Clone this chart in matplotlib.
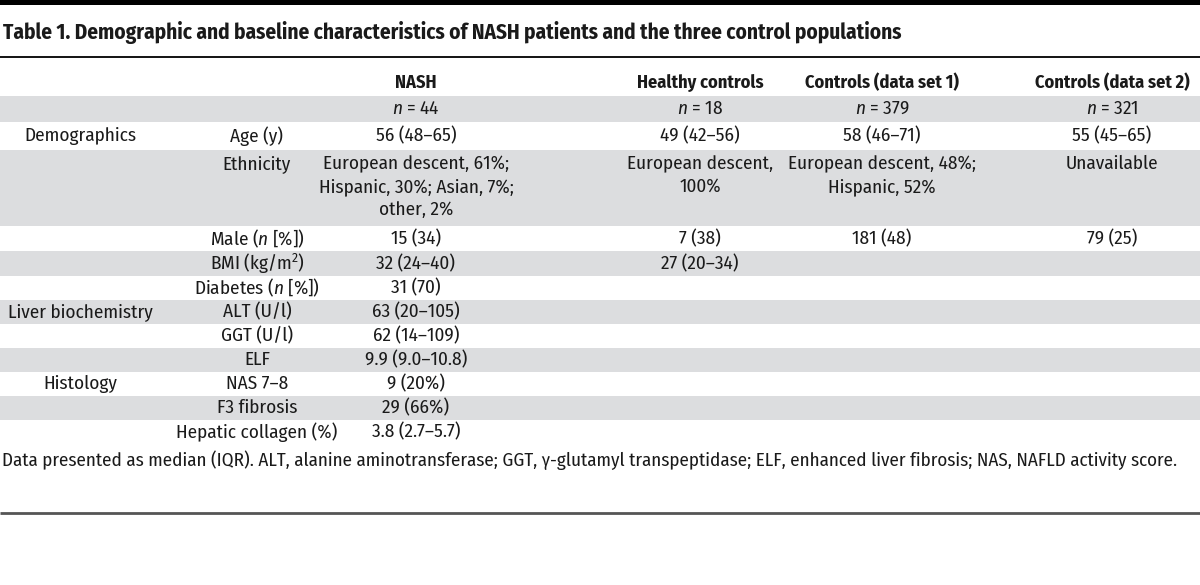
import matplotlib
matplotlib.use("Agg")
import matplotlib.pyplot as plt
from matplotlib.patches import Rectangle

FONT = ["Fira Sans Condensed", "DejaVu Sans"]
plt.rcParams["font.family"] = FONT
plt.rcParams["mathtext.fontset"] = "custom"
plt.rcParams["mathtext.rm"] = "Fira Sans Condensed"
plt.rcParams["mathtext.it"] = "Fira Sans Condensed:italic"

title = "Table 1. Demographic and baseline characteristics of NASH patients and the three control populations"
col_headers = ["NASH", "Healthy controls", "Controls (data set 1)", "Controls (data set 2)"]
groups = ["", "Demographics", "", "", "", "", "Liver biochemistry", "", "", "Histology", "", ""]
variables = ["", "Age (y)", "Ethnicity", "Male ($\\it{n}$ [%])", "BMI (kg/m$^2$)",
             "Diabetes ($\\it{n}$ [%])", "ALT (U/l)", "GGT (U/l)", "ELF", "NAS 7–8",
             "F3 fibrosis", "Hepatic collagen (%)"]
nash = ["$\\it{n}$ = 44", "56 (48–65)",
        "European descent, 61%;\nHispanic, 30%; Asian, 7%;\nother, 2%",
        "15 (34)", "32 (24–40)", "31 (70)", "63 (20–105)", "62 (14–109)",
        "9.9 (9.0–10.8)", "9 (20%)", "29 (66%)", "3.8 (2.7–5.7)"]
healthy = ["$\\it{n}$ = 18", "49 (42–56)", "European descent,\n100%", "7 (38)",
           "27 (20–34)", "", "", "", "", "", "", ""]
ds1 = ["$\\it{n}$ = 379", "58 (46–71)", "European descent, 48%;\nHispanic, 52%", "181 (48)",
       "", "", "", "", "", "", "", ""]
ds2 = ["$\\it{n}$ = 321", "55 (45–65)", "Unavailable", "79 (25)",
       "", "", "", "", "", "", "", ""]
footnote = ("Data presented as median (IQR). ALT, alanine aminotransferase; GGT, γ-glutamyl "
            "transpeptidase; ELF, enhanced liver fibrosis; NAS, NAFLD activity score.")

W, H = 1200, 585
fig = plt.figure(figsize=(W / 100, H / 100), dpi=100)
ax = fig.add_axes([0, 0, 1, 1])
ax.set_xlim(0, W)
ax.set_ylim(H, 0)
ax.axis("off")

TXT = "#1a1a1a"
GRAY = "#dcdddf"
FS = 13.8

# top bar and rules
ax.add_patch(Rectangle((0, 0), W, 4.5, color="black", lw=0))
ax.text(3, 33, title, fontsize=15.3, fontweight="bold", va="center", ha="left", color=TXT)
ax.plot([0, W], [57, 57], color="black", lw=1.3, solid_capstyle="butt")

col_x = [80, 257, 416, 700, 882, 1112]
header_y = 83
for x, h in zip(col_x[2:], col_headers):
    ax.text(x, header_y, h, fontsize=13.2, fontweight="bold", ha="center", va="center", color=TXT)

bounds = [96, 122, 150, 226, 251, 276, 300, 324, 348, 372, 396, 420, 444]
for i in range(len(variables)):
    y0, y1 = bounds[i], bounds[i + 1]
    if i % 2 == 0:
        ax.add_patch(Rectangle((0, y0), W, y1 - y0, color=GRAY, lw=0, zorder=0))
    yc = (y0 + y1) / 2
    multi = (y1 - y0) > 40
    for x, vals in zip(col_x, [groups, variables, nash, healthy, ds1, ds2]):
        s = vals[i]
        if not s:
            continue
        if multi:
            for k, line in enumerate(s.split("\n")):
                ax.text(x, y0 + 14 + 23 * k, line, fontsize=FS, ha="center", va="center",
                        color=TXT)
        else:
            ax.text(x, yc, s, fontsize=FS, ha="center", va="center", color=TXT)

ax.text(2, 460, footnote, fontsize=13.7, ha="left", va="center", color=TXT)
ax.plot([0, W], [513, 513], color="#555555", lw=2, solid_capstyle="butt")

fig.savefig("out.png", dpi=100)
